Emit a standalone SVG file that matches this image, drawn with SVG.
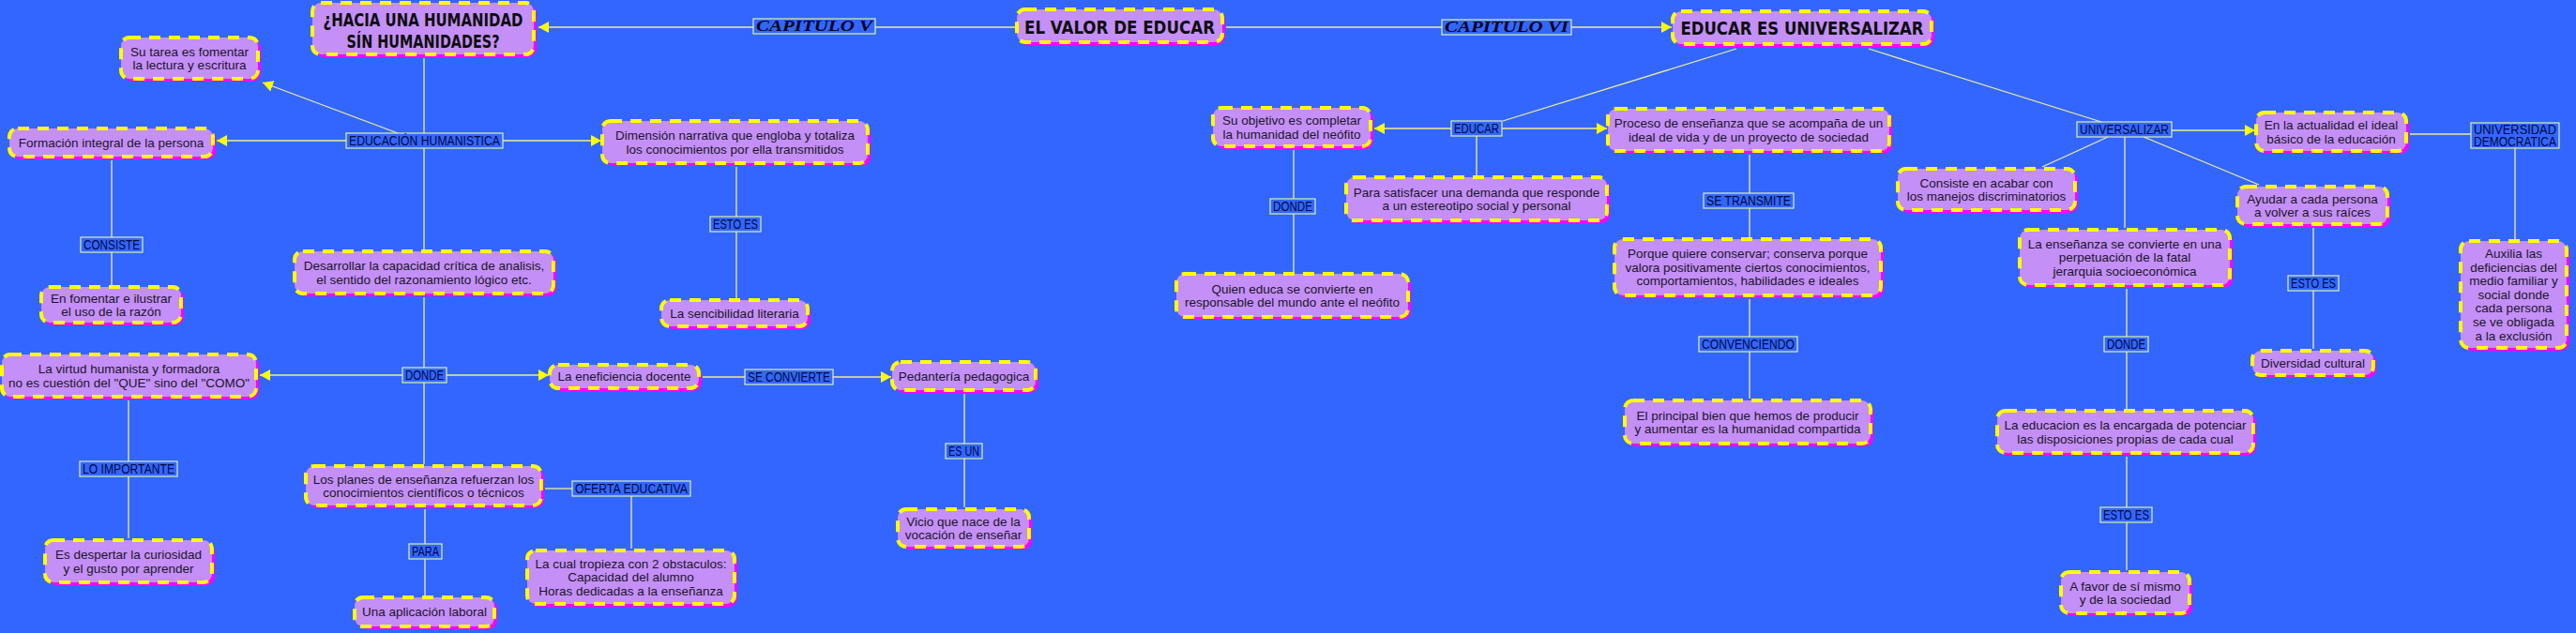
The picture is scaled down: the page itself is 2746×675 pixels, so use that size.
<svg xmlns="http://www.w3.org/2000/svg" width="2746" height="675" viewBox="0 0 2746 675">
<style>
.sh{fill:#ff00ff}
.bx{fill:#c48ff7;stroke:#ffff00;stroke-width:4;stroke-dasharray:12 9}
.t{font-family:"Liberation Sans",Arial,sans-serif;font-size:13.5px;fill:#1a1628;text-anchor:middle}
.ti{font-family:"Liberation Sans Narrow","DejaVu Sans Condensed","Liberation Sans",sans-serif;font-weight:bold;font-size:19px;fill:#0d0d0d;text-anchor:middle}
.lb{fill:#3366ff;stroke:#d8f2a8;stroke-width:1.2}
.lt{font-family:"Liberation Sans",Arial,sans-serif;font-size:14px;fill:#000840;text-anchor:middle}
.ct{font-family:"Liberation Serif","Times New Roman",serif;font-style:italic;font-weight:bold;font-size:16px;fill:#000018;text-anchor:middle}
.c{stroke:#eeee90;stroke-width:1.3;fill:none}
</style>
<defs>
<marker id="arr" markerUnits="userSpaceOnUse" markerWidth="11" markerHeight="12" refX="11" refY="6" orient="auto">
<path d="M0,0 L11,6 L0,12 Z" fill="#ffff00"/>
</marker>
</defs>
<rect width="2746" height="675" fill="#3366ff"/>

<g id="connectors">
<line class="c" x1="1082" y1="29" x2="933" y2="29"/>
<line class="c" x1="803" y1="29" x2="574" y2="29" marker-end="url(#arr)"/>
<line class="c" x1="1307" y1="29" x2="1537" y2="29"/>
<line class="c" x1="1675" y1="29" x2="1782" y2="29" marker-end="url(#arr)"/>
<line class="c" x1="452" y1="62" x2="452" y2="142"/>
<line class="c" x1="369" y1="150" x2="231" y2="150" marker-end="url(#arr)"/>
<line class="c" x1="536" y1="150" x2="641" y2="150" marker-end="url(#arr)"/>
<line class="c" x1="424" y1="142" x2="280" y2="88" marker-end="url(#arr)"/>
<line class="c" x1="452" y1="158" x2="452" y2="266"/>
<line class="c" x1="785" y1="178" x2="785" y2="231"/>
<line class="c" x1="785" y1="247" x2="785" y2="318"/>
<line class="c" x1="119" y1="171" x2="119" y2="253"/>
<line class="c" x1="119" y1="269" x2="119" y2="304"/>
<line class="c" x1="452" y1="317" x2="452" y2="392"/>
<line class="c" x1="452" y1="408" x2="452" y2="495"/>
<line class="c" x1="429" y1="400" x2="277" y2="400" marker-end="url(#arr)"/>
<line class="c" x1="476" y1="400" x2="585" y2="400" marker-end="url(#arr)"/>
<line class="c" x1="749" y1="402" x2="794" y2="402"/>
<line class="c" x1="888" y1="402" x2="950" y2="402" marker-end="url(#arr)"/>
<line class="c" x1="1028" y1="420" x2="1028" y2="473"/>
<line class="c" x1="1028" y1="489" x2="1028" y2="541"/>
<line class="c" x1="581" y1="521" x2="610" y2="521"/>
<line class="c" x1="673" y1="529" x2="673" y2="585"/>
<line class="c" x1="453" y1="543" x2="453" y2="580"/>
<line class="c" x1="453" y1="596" x2="453" y2="635"/>
<line class="c" x1="137" y1="427" x2="137" y2="492"/>
<line class="c" x1="137" y1="508" x2="137" y2="574"/>
<line class="c" x1="1851" y1="52" x2="1602" y2="129"/>
<line class="c" x1="1547" y1="137" x2="1465" y2="137" marker-end="url(#arr)"/>
<line class="c" x1="1601" y1="137" x2="1713" y2="137" marker-end="url(#arr)"/>
<line class="c" x1="1574" y1="145" x2="1574" y2="187"/>
<line class="c" x1="1379" y1="160" x2="1379" y2="212"/>
<line class="c" x1="1379" y1="228" x2="1379" y2="290"/>
<line class="c" x1="1865" y1="165" x2="1865" y2="206"/>
<line class="c" x1="1865" y1="222" x2="1865" y2="253"/>
<line class="c" x1="1865" y1="319" x2="1865" y2="359"/>
<line class="c" x1="1865" y1="375" x2="1865" y2="425"/>
<line class="c" x1="1992" y1="52" x2="2240" y2="130"/>
<line class="c" x1="2315" y1="139" x2="2404" y2="139" marker-end="url(#arr)"/>
<line class="c" x1="2247" y1="146" x2="2177" y2="178"/>
<line class="c" x1="2265" y1="146" x2="2265" y2="243"/>
<line class="c" x1="2285" y1="146" x2="2408" y2="197"/>
<line class="c" x1="2569" y1="143" x2="2634" y2="143"/>
<line class="c" x1="2681" y1="158" x2="2681" y2="255"/>
<line class="c" x1="2466" y1="243" x2="2466" y2="294"/>
<line class="c" x1="2466" y1="310" x2="2466" y2="372"/>
<line class="c" x1="2267" y1="308" x2="2267" y2="359"/>
<line class="c" x1="2267" y1="375" x2="2267" y2="436"/>
<line class="c" x1="2267" y1="487" x2="2267" y2="541"/>
<line class="c" x1="2267" y1="557" x2="2267" y2="608"/>
</g>

<g id="labels">
<g id="l-cap5"><rect class="lb" x="803" y="20" width="130" height="16"/><text class="ct" x="868" y="33" textLength="124" lengthAdjust="spacingAndGlyphs">CAPITULO V</text></g>
<g id="l-cap6"><rect class="lb" x="1537" y="21" width="138" height="16"/><text class="ct" x="1606" y="34" textLength="132" lengthAdjust="spacingAndGlyphs">CAPITULO VI</text></g>
<g id="l-eduhum"><rect class="lb" x="369" y="142" width="167" height="16"/><text class="lt" x="452.5" y="155" textLength="161" lengthAdjust="spacingAndGlyphs">EDUCACIÓN HUMANISTICA</text></g>
<g id="l-estoes1"><rect class="lb" x="757" y="231" width="54" height="16"/><text class="lt" x="784" y="244" textLength="48" lengthAdjust="spacingAndGlyphs">ESTO ES</text></g>
<g id="l-consiste"><rect class="lb" x="86" y="253" width="66" height="16"/><text class="lt" x="119" y="266" textLength="60" lengthAdjust="spacingAndGlyphs">CONSISTE</text></g>
<g id="l-donde1"><rect class="lb" x="429" y="392" width="47" height="16"/><text class="lt" x="452.5" y="405" textLength="41" lengthAdjust="spacingAndGlyphs">DONDE</text></g>
<g id="l-seconv"><rect class="lb" x="794" y="394" width="94" height="16"/><text class="lt" x="841" y="407" textLength="88" lengthAdjust="spacingAndGlyphs">SE CONVIERTE</text></g>
<g id="l-esun"><rect class="lb" x="1008" y="473" width="39" height="16"/><text class="lt" x="1027.5" y="486" textLength="33" lengthAdjust="spacingAndGlyphs">ES UN</text></g>
<g id="l-oferta"><rect class="lb" x="610" y="513" width="126" height="16"/><text class="lt" x="673" y="526" textLength="120" lengthAdjust="spacingAndGlyphs">OFERTA EDUCATIVA</text></g>
<g id="l-para"><rect class="lb" x="436" y="580" width="35" height="16"/><text class="lt" x="453.5" y="593" textLength="29" lengthAdjust="spacingAndGlyphs">PARA</text></g>
<g id="l-loimp"><rect class="lb" x="85" y="492" width="104" height="16"/><text class="lt" x="137" y="505" textLength="98" lengthAdjust="spacingAndGlyphs">LO IMPORTANTE</text></g>
<g id="l-educar"><rect class="lb" x="1547" y="129" width="54" height="16"/><text class="lt" x="1574" y="142" textLength="48" lengthAdjust="spacingAndGlyphs">EDUCAR</text></g>
<g id="l-donde2"><rect class="lb" x="1354" y="212" width="48" height="16"/><text class="lt" x="1378" y="225" textLength="42" lengthAdjust="spacingAndGlyphs">DONDE</text></g>
<g id="l-setrans"><rect class="lb" x="1816" y="206" width="96" height="16"/><text class="lt" x="1864" y="219" textLength="90" lengthAdjust="spacingAndGlyphs">SE TRANSMITE</text></g>
<g id="l-convenc"><rect class="lb" x="1811" y="359" width="105" height="16"/><text class="lt" x="1863.5" y="372" textLength="99" lengthAdjust="spacingAndGlyphs">CONVENCIENDO</text></g>
<g id="l-univ"><rect class="lb" x="2214" y="130" width="101" height="16"/><text class="lt" x="2264.5" y="143" textLength="95" lengthAdjust="spacingAndGlyphs">UNIVERSALIZAR</text></g>
<g id="l-unidem"><rect class="lb" x="2634" y="131" width="94" height="27"/><text class="lt" x="2681" y="143" textLength="88" lengthAdjust="spacingAndGlyphs">UNIVERSIDAD</text><text class="lt" x="2681" y="155.5" textLength="88" lengthAdjust="spacingAndGlyphs">DEMOCRATICA</text></g>
<g id="l-donde3"><rect class="lb" x="2243" y="359" width="47" height="16"/><text class="lt" x="2266.5" y="372" textLength="41" lengthAdjust="spacingAndGlyphs">DONDE</text></g>
<g id="l-estoes2"><rect class="lb" x="2439" y="294" width="54" height="16"/><text class="lt" x="2466" y="307" textLength="48" lengthAdjust="spacingAndGlyphs">ESTO ES</text></g>
<g id="l-estoes3"><rect class="lb" x="2239" y="541" width="55" height="16"/><text class="lt" x="2266.5" y="554" textLength="49" lengthAdjust="spacingAndGlyphs">ESTO ES</text></g>
</g>

<g id="n-hacia"><rect class="sh" x="336" y="6" width="236" height="55" rx="9"/><rect class="bx" x="333" y="3" width="236" height="55" rx="9"/><text class="ti" x="451" y="27.5" textLength="213" lengthAdjust="spacingAndGlyphs">¿HACIA UNA HUMANIDAD</text><text class="ti" x="451" y="50.5" textLength="163" lengthAdjust="spacingAndGlyphs">SÍN HUMANIDADES?</text></g>
<g id="n-valor"><rect class="sh" x="1087" y="13" width="219" height="35" rx="9"/><rect class="bx" x="1084" y="10" width="219" height="35" rx="9"/><text class="ti" x="1193.5" y="35.5" textLength="203" lengthAdjust="spacingAndGlyphs">EL VALOR DE EDUCAR</text></g>
<g id="n-educar-univ"><rect class="sh" x="1786" y="15" width="276" height="35" rx="9"/><rect class="bx" x="1783" y="12" width="276" height="35" rx="9"/><text class="ti" x="1921" y="36.5" textLength="259" lengthAdjust="spacingAndGlyphs">EDUCAR ES UNIVERSALIZAR</text></g>

<g id="n-sutarea"><rect class="sh" x="132" y="43" width="146" height="44" rx="9"/><rect class="bx" x="129" y="40" width="146" height="44" rx="9"/><text class="t" x="202" y="59.5">Su tarea es fomentar</text><text class="t" x="202" y="74.1">la lectura y escritura</text></g>
<g id="n-formacion"><rect class="sh" x="13" y="140" width="217" height="30" rx="9"/><rect class="bx" x="10" y="137" width="217" height="30" rx="9"/><text class="t" x="118.5" y="156.8">Formación integral de la persona</text></g>
<g id="n-dimension"><rect class="sh" x="645" y="132" width="283" height="45" rx="9"/><rect class="bx" x="642" y="129" width="283" height="45" rx="9"/><text class="t" x="783.5" y="149">Dimensión narrativa que engloba y totaliza</text><text class="t" x="783.5" y="163.6">los conocimientos por ella transmitidos</text></g>
<g id="n-sencibilidad"><rect class="sh" x="708" y="323" width="156" height="28" rx="9"/><rect class="bx" x="705" y="320" width="156" height="28" rx="9"/><text class="t" x="783" y="338.8">La sencibilidad literaria</text></g>
<g id="n-fomentar"><rect class="sh" x="47" y="309" width="149" height="38" rx="9"/><rect class="bx" x="44" y="306" width="149" height="38" rx="9"/><text class="t" x="118.5" y="322.5">En fomentar e ilustrar</text><text class="t" x="118.5" y="337.1">el uso de la razón</text></g>
<g id="n-desarrollar"><rect class="sh" x="317" y="271" width="276" height="45" rx="9"/><rect class="bx" x="314" y="268" width="276" height="45" rx="9"/><text class="t" x="452" y="288">Desarrollar la capacidad crítica de analisis,</text><text class="t" x="452" y="302.6">el sentido del razonamiento lógico etc.</text></g>
<g id="n-virtud"><rect class="sh" x="5" y="381" width="271" height="45" rx="9"/><rect class="bx" x="2" y="378" width="271" height="45" rx="9"/><text class="t" x="137.5" y="398">La virtud humanista y formadora</text><text class="t" x="137.5" y="412.6">no es cuestión del "QUE" sino del "COMO"</text></g>
<g id="n-eneficiencia"><rect class="sh" x="589" y="392" width="159" height="25" rx="9"/><rect class="bx" x="586" y="389" width="159" height="25" rx="9"/><text class="t" x="665.5" y="406.3">La eneficiencia docente</text></g>
<g id="n-pedanteria"><rect class="sh" x="954" y="389" width="153" height="30" rx="9"/><rect class="bx" x="951" y="386" width="153" height="30" rx="9"/><text class="t" x="1027.5" y="405.8">Pedantería pedagogica</text></g>
<g id="n-vicio"><rect class="sh" x="960" y="546" width="140" height="40" rx="9"/><rect class="bx" x="957" y="543" width="140" height="40" rx="9"/><text class="t" x="1027" y="560.5">Vicio que nace de la</text><text class="t" x="1027" y="575.1">vocación de enseñar</text></g>
<g id="n-planes"><rect class="sh" x="329" y="500" width="251" height="42" rx="9"/><rect class="bx" x="326" y="497" width="251" height="42" rx="9"/><text class="t" x="451.5" y="515.5">Los planes de enseñanza refuerzan los</text><text class="t" x="451.5" y="530.1">conocimientos científicos o técnicos</text></g>
<g id="n-lacual"><rect class="sh" x="565" y="590" width="221" height="57" rx="9"/><rect class="bx" x="562" y="587" width="221" height="57" rx="9"/><text class="t" x="672.5" y="605.7">La cual tropieza con 2 obstaculos:</text><text class="t" x="672.5" y="620.3">Capacidad del alumno</text><text class="t" x="672.5" y="634.9">Horas dedicadas a la enseñanza</text></g>
<g id="n-aplicacion"><rect class="sh" x="381" y="640" width="149" height="31" rx="9"/><rect class="bx" x="378" y="637" width="149" height="31" rx="9"/><text class="t" x="452.5" y="657.3">Una aplicación laboral</text></g>
<g id="n-despertar"><rect class="sh" x="51" y="579" width="178" height="45" rx="9"/><rect class="bx" x="48" y="576" width="178" height="45" rx="9"/><text class="t" x="137" y="596">Es despertar la curiosidad</text><text class="t" x="137" y="610.6">y el gusto por aprender</text></g>

<g id="n-objetivo"><rect class="sh" x="1296" y="118" width="168" height="41" rx="9"/><rect class="bx" x="1293" y="115" width="168" height="41" rx="9"/><text class="t" x="1377" y="133">Su objetivo es completar</text><text class="t" x="1377" y="147.6">la humanidad del neófito</text></g>
<g id="n-proceso"><rect class="sh" x="1717" y="119" width="300" height="45" rx="9"/><rect class="bx" x="1714" y="116" width="300" height="45" rx="9"/><text class="t" x="1864" y="136">Proceso de enseñanza que se acompaña de un</text><text class="t" x="1864" y="150.6">ideal de vida y de un proyecto de sociedad</text></g>
<g id="n-satisfacer"><rect class="sh" x="1438" y="192" width="278" height="46" rx="9"/><rect class="bx" x="1435" y="189" width="278" height="46" rx="9"/><text class="t" x="1574" y="209.5">Para satisfacer una demanda que responde</text><text class="t" x="1574" y="224.1">a un estereotipo social y personal</text></g>
<g id="n-quien"><rect class="sh" x="1257" y="295" width="247" height="46" rx="9"/><rect class="bx" x="1254" y="292" width="247" height="46" rx="9"/><text class="t" x="1377.5" y="312.5">Quien educa se convierte en</text><text class="t" x="1377.5" y="327.1">responsable del mundo ante el neófito</text></g>
<g id="n-porque"><rect class="sh" x="1724" y="258" width="284" height="60" rx="9"/><rect class="bx" x="1721" y="255" width="284" height="60" rx="9"/><text class="t" x="1863" y="275.2">Porque quiere conservar; conserva porque</text><text class="t" x="1863" y="289.8">valora positivamente ciertos conocimientos,</text><text class="t" x="1863" y="304.4">comportamientos, habilidades e ideales</text></g>
<g id="n-principal"><rect class="sh" x="1735" y="430" width="262" height="46" rx="9"/><rect class="bx" x="1732" y="427" width="262" height="46" rx="9"/><text class="t" x="1863" y="447.5">El principal bien que hemos de producir</text><text class="t" x="1863" y="462.1">y aumentar es la humanidad compartida</text></g>
<g id="n-actualidad"><rect class="sh" x="2408" y="123" width="160" height="41" rx="9"/><rect class="bx" x="2405" y="120" width="160" height="41" rx="9"/><text class="t" x="2485" y="138">En la actualidad el ideal</text><text class="t" x="2485" y="152.6">básico de la educación</text></g>
<g id="n-acabar"><rect class="sh" x="2026" y="183" width="189" height="44" rx="9"/><rect class="bx" x="2023" y="180" width="189" height="44" rx="9"/><text class="t" x="2117.5" y="199.5">Consiste en acabar con</text><text class="t" x="2117.5" y="214.1">los manejos discriminatorios</text></g>
<g id="n-ayudar"><rect class="sh" x="2388" y="202" width="160" height="40" rx="9"/><rect class="bx" x="2385" y="199" width="160" height="40" rx="9"/><text class="t" x="2465" y="216.5">Ayudar a cada persona</text><text class="t" x="2465" y="231.1">a volver a sus raíces</text></g>
<g id="n-ensenanza"><rect class="sh" x="2156" y="248" width="224" height="59" rx="9"/><rect class="bx" x="2153" y="245" width="224" height="59" rx="9"/><text class="t" x="2265" y="264.7">La enseñanza se convierte en una</text><text class="t" x="2265" y="279.3">perpetuación de la fatal</text><text class="t" x="2265" y="293.9">jerarquia socioeconómica</text></g>
<g id="n-diversidad"><rect class="sh" x="2404" y="377" width="129" height="26" rx="9"/><rect class="bx" x="2401" y="374" width="129" height="26" rx="9"/><text class="t" x="2465.5" y="391.8">Diversidad cultural</text></g>
<g id="n-auxilia"><rect class="sh" x="2626" y="260" width="113" height="114" rx="9"/><rect class="bx" x="2623" y="257" width="113" height="114" rx="9"/><text class="t" x="2679.5" y="275">Auxilia las</text><text class="t" x="2679.5" y="289.6">deficiencias del</text><text class="t" x="2679.5" y="304.2">medio familiar y</text><text class="t" x="2679.5" y="318.8">social donde</text><text class="t" x="2679.5" y="333.4">cada persona</text><text class="t" x="2679.5" y="348">se ve obligada</text><text class="t" x="2679.5" y="362.6">a la exclusión</text></g>
<g id="n-educacion"><rect class="sh" x="2132" y="441" width="273" height="45" rx="9"/><rect class="bx" x="2129" y="438" width="273" height="45" rx="9"/><text class="t" x="2265.5" y="458">La educacion es la encargada de potenciar</text><text class="t" x="2265.5" y="472.6">las disposiciones propias de cada cual</text></g>
<g id="n-favor"><rect class="sh" x="2200" y="613" width="137" height="44" rx="9"/><rect class="bx" x="2197" y="610" width="137" height="44" rx="9"/><text class="t" x="2265.5" y="629.5">A favor de sí mismo</text><text class="t" x="2265.5" y="644.1">y de la sociedad</text></g>
</svg>
